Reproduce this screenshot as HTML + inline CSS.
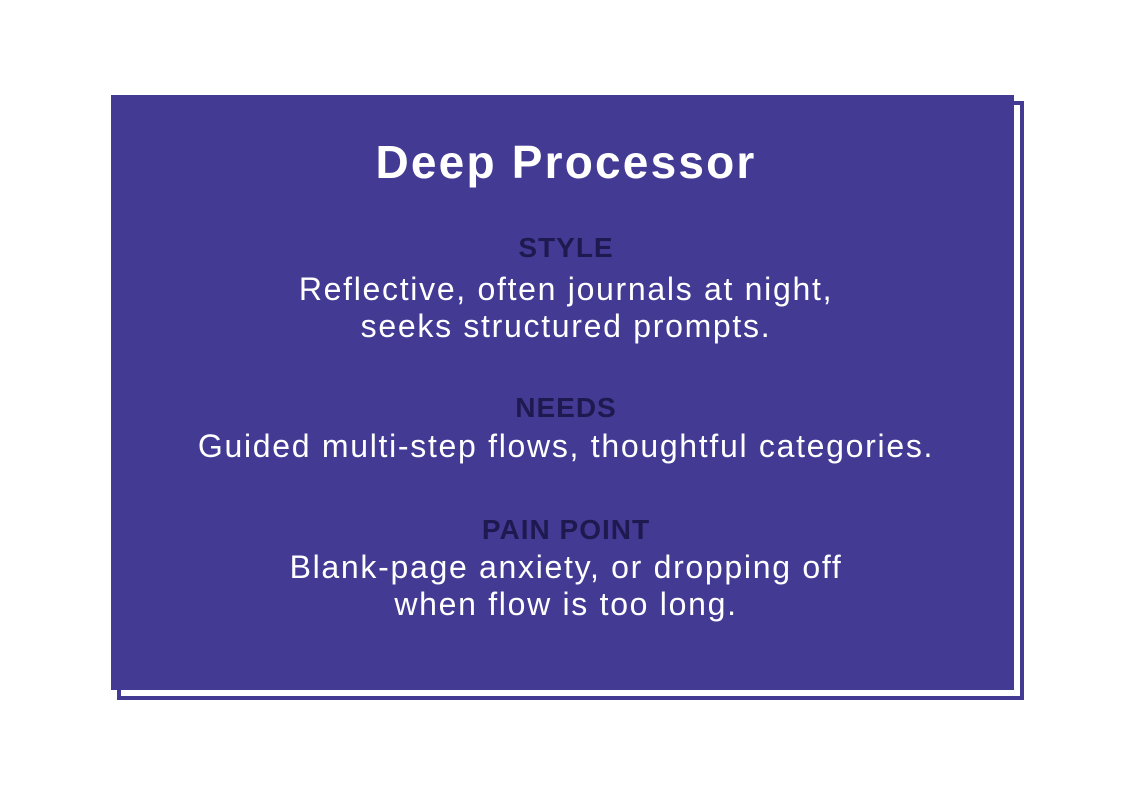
<!DOCTYPE html>
<html><head><meta charset="utf-8"><style>
body{margin:0;width:1132px;height:800px;background:#fff;position:relative;overflow:hidden;font-family:"Liberation Sans",sans-serif}
.sh{position:absolute;left:117px;top:101px;width:899px;height:591px;border:4px solid #433a94}
.bx{position:absolute;left:111px;top:95px;width:903px;height:595px;background:#433a94}
.t{position:absolute;left:0;width:1132px;text-align:center;line-height:1;white-space:nowrap}
.h{color:#1e1a4f;font-weight:bold;font-size:28px;letter-spacing:1px}
.b{color:#fff;font-size:32px;letter-spacing:1.7px}
</style></head><body>
<div class="sh"></div>
<div class="bx"></div>
<div class="t" style="top:139px;font-size:46px;font-weight:bold;color:#fff;letter-spacing:2.2px">Deep Processor</div>
<div class="t h" style="top:234px">STYLE</div>
<div class="t b" style="top:273px">Reflective, often journals at night,</div>
<div class="t b" style="top:310px">seeks structured prompts.</div>
<div class="t h" style="top:394px">NEEDS</div>
<div class="t b" style="top:430px">Guided multi-step flows, thoughtful categories.</div>
<div class="t h" style="top:516px">PAIN POINT</div>
<div class="t b" style="top:551px">Blank-page anxiety, or dropping off</div>
<div class="t b" style="top:588px">when flow is too long.</div>
</body></html>
